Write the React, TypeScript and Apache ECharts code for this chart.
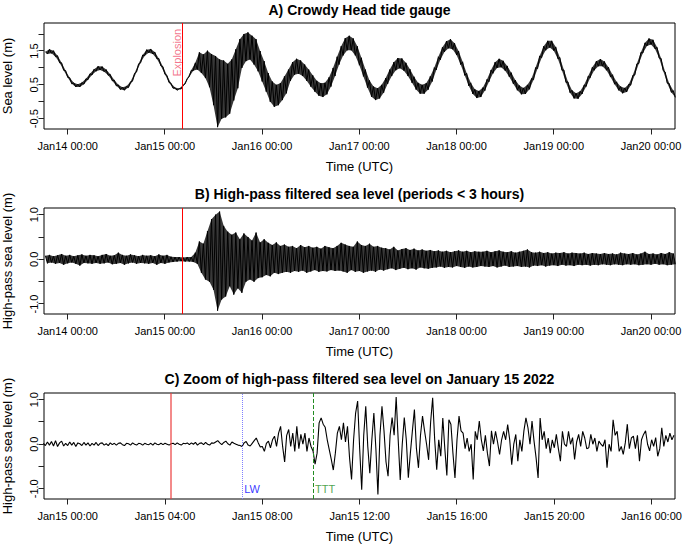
import React, { useEffect, useRef } from "react";
import * as echarts from "echarts";

// ---------- Panel A & B: hourly band readings (hours since Jan14 00:00) ----------
const AB_START_H = -5.5; // first hourly reading
// Panel A: upper edge of the sea-level trace at each hour, lower edge half an hour later (m)
const hiA = [
  1.48, 1.55, 1.51, 1.36, 1.15, 0.92, 0.71, 0.56, 0.52, 0.57, 0.68, 0.83,
  0.96, 1.05, 1.04, 0.95, 0.81, 0.64, 0.50, 0.43, 0.46, 0.59, 0.84, 1.12,
  1.38, 1.54, 1.56, 1.47, 1.28, 1.04, 0.78, 0.55, 0.42, 0.39, 0.49, 0.69,
  0.93, 1.15, 1.46, 1.40, 1.51, 1.41, 1.35, 1.25, 1.22, 1.12, 1.25, 1.55,
  1.85, 2.00, 2.05, 1.95, 1.85, 1.50, 1.20, 0.85, 0.60, 0.50, 0.55, 0.75,
  0.95, 1.17, 1.27, 1.22, 1.10, 0.95, 0.78, 0.62, 0.55, 0.56, 0.72, 1.00,
  1.33, 1.64, 1.88, 1.95, 1.87, 1.64, 1.30, 0.95, 0.63, 0.45, 0.40, 0.50,
  0.70, 0.95, 1.17, 1.29, 1.28, 1.15, 0.96, 0.74, 0.56, 0.50, 0.55, 0.75,
  1.01, 1.33, 1.61, 1.79, 1.85, 1.73, 1.50, 1.18, 0.84, 0.56, 0.37, 0.32,
  0.42, 0.66, 0.94, 1.17, 1.27, 1.21, 1.06, 0.86, 0.64, 0.48, 0.41, 0.50,
  0.69, 1.01, 1.35, 1.64, 1.80, 1.80, 1.62, 1.31, 0.94, 0.59, 0.34, 0.25,
  0.31, 0.50, 0.76, 1.02, 1.20, 1.26, 1.19, 1.02, 0.80, 0.59, 0.45, 0.41,
  0.52, 0.78, 1.12, 1.46, 1.74, 1.87, 1.83, 1.61, 1.28, 0.88, 0.54, 0.33,
];
const loA = [
  1.41, 1.43, 1.33, 1.15, 0.93, 0.72, 0.53, 0.44, 0.44, 0.52, 0.65, 0.79,
  0.90, 0.94, 0.89, 0.78, 0.62, 0.47, 0.36, 0.34, 0.42, 0.61, 0.88, 1.15,
  1.36, 1.45, 1.41, 1.27, 1.06, 0.81, 0.57, 0.40, 0.34, 0.38, 0.53, 0.74,
  0.92, 0.95, 0.85, 0.70, 0.43, -0.10, -0.75, -0.50, -0.46, -0.35, 0.04, 0.40,
  1.00, 1.20, 1.25, 1.10, 0.90, 0.60, 0.30, 0.00, -0.15, -0.10, 0.05, 0.25,
  0.62, 0.80, 0.83, 0.76, 0.62, 0.45, 0.30, 0.18, 0.14, 0.22, 0.45, 0.76,
  1.10, 1.37, 1.52, 1.52, 1.37, 1.08, 0.75, 0.42, 0.15, 0.05, 0.10, 0.27,
  0.53, 0.76, 0.93, 0.99, 0.92, 0.76, 0.56, 0.36, 0.24, 0.24, 0.36, 0.60,
  0.94, 1.24, 1.47, 1.58, 1.55, 1.38, 1.10, 0.78, 0.47, 0.23, 0.11, 0.14,
  0.33, 0.59, 0.84, 1.00, 1.02, 0.92, 0.74, 0.53, 0.34, 0.22, 0.23, 0.37,
  0.65, 0.98, 1.30, 1.52, 1.60, 1.51, 1.27, 0.93, 0.57, 0.27, 0.10, 0.09,
  0.23, 0.45, 0.71, 0.93, 1.05, 1.05, 0.93, 0.73, 0.52, 0.34, 0.25, 0.29,
  0.49, 0.79, 1.13, 1.44, 1.65, 1.69, 1.56, 1.29, 0.92, 0.55, 0.28, 0.13,
];
// Panel B: high-pass filtered sea level, upper and lower edges (m)
const hiB = [
  0.08, 0.10, 0.07, 0.09, 0.12, 0.08, 0.10, 0.07, 0.09, 0.11, 0.08, 0.10,
  0.09, 0.07, 0.10, 0.12, 0.08, 0.09, 0.15, 0.10, 0.08, 0.11, 0.09, 0.07,
  0.10, 0.08, 0.09, 0.07, 0.11, 0.08, 0.10, 0.06, 0.05, 0.05, 0.04, 0.05,
  0.05, 0.15, 0.40, 0.35, 0.63, 0.90, 1.00, 1.07, 0.75, 0.62, 0.55, 0.60,
  0.45, 0.58, 0.50, 0.42, 0.60, 0.38, 0.45, 0.37, 0.32, 0.38, 0.30, 0.33,
  0.28, 0.30, 0.25, 0.32, 0.27, 0.30, 0.26, 0.28, 0.24, 0.30, 0.27, 0.25,
  0.30, 0.37, 0.33, 0.30, 0.28, 0.40, 0.32, 0.30, 0.35, 0.28, 0.30, 0.26,
  0.25, 0.22, 0.28, 0.20, 0.23, 0.25, 0.21, 0.24, 0.20, 0.22, 0.19, 0.21,
  0.18, 0.20, 0.17, 0.19, 0.16, 0.18, 0.20, 0.17, 0.19, 0.16, 0.18, 0.17,
  0.17, 0.19, 0.16, 0.18, 0.20, 0.17, 0.16, 0.18, 0.15, 0.17, 0.19, 0.22,
  0.16, 0.15, 0.17, 0.14, 0.16, 0.13, 0.15, 0.14, 0.16, 0.13, 0.15, 0.14,
  0.13, 0.15, 0.12, 0.14, 0.13, 0.12, 0.14, 0.12, 0.13, 0.11, 0.15, 0.13,
  0.12, 0.14, 0.11, 0.13, 0.17, 0.12, 0.13, 0.11, 0.14, 0.12, 0.16, 0.13,
];
const loB = [
  -0.09, -0.07, -0.10, -0.08, -0.12, -0.09, -0.07, -0.10, -0.14, -0.08, -0.09, -0.10,
  -0.08, -0.10, -0.09, -0.07, -0.11, -0.10, -0.08, -0.12, -0.09, -0.07, -0.10, -0.08,
  -0.09, -0.10, -0.08, -0.12, -0.08, -0.10, -0.07, -0.06, -0.05, -0.04, -0.05, -0.05,
  -0.06, -0.10, -0.30, -0.45, -0.50, -0.68, -1.15, -0.90, -0.83, -0.60, -0.79, -0.65,
  -0.75, -0.50, -0.45, -0.50, -0.42, -0.40, -0.35, -0.38, -0.30, -0.33, -0.30, -0.28,
  -0.30, -0.26, -0.28, -0.25, -0.30, -0.27, -0.24, -0.28, -0.26, -0.27, -0.24, -0.26,
  -0.25, -0.27, -0.30, -0.24, -0.28, -0.26, -0.30, -0.27, -0.25, -0.28, -0.23, -0.25,
  -0.22, -0.20, -0.24, -0.21, -0.19, -0.22, -0.20, -0.23, -0.18, -0.20, -0.21, -0.19,
  -0.18, -0.16, -0.19, -0.17, -0.18, -0.15, -0.17, -0.19, -0.16, -0.18, -0.17, -0.15,
  -0.16, -0.17, -0.15, -0.18, -0.16, -0.14, -0.17, -0.16, -0.15, -0.17, -0.16, -0.18,
  -0.14, -0.15, -0.13, -0.16, -0.14, -0.13, -0.15, -0.12, -0.14, -0.13, -0.15, -0.12,
  -0.13, -0.12, -0.14, -0.12, -0.13, -0.11, -0.12, -0.13, -0.11, -0.12, -0.13, -0.11,
  -0.12, -0.11, -0.13, -0.12, -0.11, -0.12, -0.10, -0.12, -0.11, -0.13, -0.12, -0.11,
];

// ---------- Panel C: 5-minute readings (hours since Jan15 00:00) ----------
const C_START_H = -1;
const C_STEP_MIN = 5;
const hpC = [
  0.02, -0.03, 0.05, -0.02, 0.06, -0.04, 0.08, -0.05, 0.03, 0.07, -0.04, 0.02,
  -0.03, 0.05, -0.02, 0.04, -0.05, 0.03, 0.01, -0.03, 0.04, -0.02, 0.03, -0.04,
  0.02, -0.02, 0.04, -0.03, 0.02, 0.03, -0.02, 0.01, -0.03, 0.03, -0.01, 0.02,
  -0.02, 0.02, 0.03, -0.01, -0.03, 0.02, 0.01, -0.02, 0.03, 0.00, -0.02, 0.02,
  0.01, -0.02, 0.02, 0.00, -0.01, 0.02, -0.02, 0.03, 0.00, -0.01, 0.02, -0.01,
  0.02, 0.00, -0.02, 0.01, 0.02, -0.01, 0.03, 0.00, -0.02, 0.02, 0.01, 0.03,
  -0.01, 0.03, 0.00, 0.04, -0.02, 0.02, 0.03, -0.01, 0.04, 0.00, -0.02, 0.03,
  0.02, 0.05, 0.08, 0.03, -0.01, 0.04, 0.07, 0.01, -0.02, 0.05, 0.02, 0.00,
  -0.02, -0.03, -0.05, 0.03, 0.06, -0.02, -0.04, 0.02, 0.08, 0.14, 0.03, -0.06,
  -0.05, -0.16, 0.02, 0.07, -0.08, 0.10, 0.18, -0.05, 0.25, 0.40, -0.05, -0.40,
  0.20, 0.33, -0.05, 0.25, -0.16, 0.40, -0.10, 0.22, 0.00, 0.25, -0.16, 0.14,
  -0.05, -0.15, -0.45, -0.20, 0.48, 0.59, 0.45, 0.38, 0.10, -0.12, -0.34, -0.58,
  -0.20, 0.25, 0.40, 0.10, 0.48, 0.05, 0.40, -0.30, -0.79, 0.10, 0.70, 0.97,
  -0.10, -1.02, 0.20, 0.85, -0.05, -0.65, 0.10, 0.70, -0.10, -1.13, 0.20, 0.85,
  0.30, -0.40, -0.72, 0.20, 0.60, 0.20, 1.06, 0.10, -0.80, 0.00, 0.60, 0.10,
  -0.75, -0.20, 0.30, 0.78, -0.10, -0.53, 0.20, 0.63, 0.30, 0.00, -0.35, 0.50,
  1.04, 0.10, -0.57, 0.10, -0.27, 0.59, -0.10, -0.70, 0.55, 0.45, -0.20, -0.76,
  0.10, 0.63, 0.30, 0.25, -0.10, 0.14, -0.16, 0.00, -0.79, 0.29, 0.10, 0.52,
  0.10, -0.15, 0.20, -0.20, -0.49, 0.30, 0.00, 0.29, 0.05, -0.23, 0.10, 0.29,
  0.10, 0.44, 0.10, -0.46, 0.00, 0.22, -0.38, 0.10, -0.16, 0.30, 0.59, 0.37,
  0.00, 0.52, 0.07, -0.30, -0.76, 0.59, 0.10, 0.29, -0.10, 0.14, -0.20, 0.10,
  -0.08, 0.22, -0.10, -0.38, 0.29, 0.00, -0.05, 0.29, 0.00, 0.15, -0.34, 0.05,
  0.22, -0.05, 0.29, 0.14, -0.10, -0.08, 0.22, 0.00, 0.14, -0.16, 0.07, 0.00,
  -0.05, 0.10, -0.53, 0.00, -0.16, 0.55, 0.20, 0.29, -0.16, -0.05, -0.23, 0.03,
  0.45, -0.10, 0.14, 0.18, -0.10, 0.20, -0.38, 0.10, 0.22, 0.30, 0.00, -0.15,
  0.10, -0.05, 0.15, -0.27, -0.10, 0.37, -0.05, 0.20, 0.05, 0.25, 0.10, 0.20,
];

// ---------- Axes / ticks / events ----------
const xTicksAB = [0, 24, 48, 72, 96, 120, 144];
const xLabelsAB = ["Jan14 00:00", "Jan15 00:00", "Jan16 00:00", "Jan17 00:00", "Jan18 00:00", "Jan19 00:00", "Jan20 00:00"];
const xTicksC = [0, 4, 8, 12, 16, 20, 24];
const xLabelsC = ["Jan15 00:00", "Jan15 04:00", "Jan15 08:00", "Jan15 12:00", "Jan15 16:00", "Jan15 20:00", "Jan16 00:00"];
const yTicksA = [-0.5, 0, 0.5, 1, 1.5, 2];
const yLabelsA = [-0.5, 0.5, 1.5];
const yTicksB = [-1, -0.5, 0, 0.5, 1];
const yLabelsB = [-1, 0, 1];

const X_RANGE_AB = [-5.85, 149.92];
const X_RANGE_C = [-0.974, 24.96];
const Y_RANGE_A = [-0.804, 2.327];
const Y_RANGE_B = [-1.224, 1.15];
const Y_RANGE_C = [-1.23, 1.15];

const EXPLOSION_AB = 28.25; // Jan15 04:15
const EXPLOSION_C = 4.25;
const LW_C = 7.19;
const TTT_C = 10.1;

const titles = [
  "A) Crowdy Head tide gauge",
  "B) High-pass filtered sea level (periods < 3 hours)",
  "C) Zoom of high-pass filtered sea level on January 15 2022",
];

const FONT = "'Liberation Sans', Arial, Helvetica, sans-serif";
const TICK_LEN = 5;
const GRID_LEFT = 44;
const GRID_WIDTH = 631;
const GRID_HEIGHT = 106;
const GRID_TOPS = [23, 208, 393];

function band(hi: number[], lo: number[], start: number) {
  const out: number[][] = [];
  for (let i = 0; i < hi.length; i++) {
    out.push([start + i, hi[i]]);
    out.push([start + i + 0.5, lo[i]]);
  }
  return out;
}

// filled envelope between the upper and lower readings, placed through the axes
function envelopeSeries(gi: number, hi: number[], lo: number[], start: number) {
  return {
    type: "custom",
    xAxisIndex: gi,
    yAxisIndex: gi,
    silent: true,
    clip: true,
    data: [[start, hi[0]]],
    renderItem: (_params: any, api: any) => {
      const pts: number[][] = [];
      for (let i = 0; i < hi.length; i++) pts.push(api.coord([start + i, hi[i]]));
      for (let i = lo.length - 1; i >= 0; i--) pts.push(api.coord([start + i + 0.5, lo[i]]));
      return { type: "polygon", shape: { points: pts }, style: { fill: "rgba(0,0,0,0.78)", stroke: "none" } };
    },
  };
}

function lookup(ticks: number[], labels: string[]) {
  return (v: number) => {
    const i = ticks.findIndex((t) => Math.abs(t - v) < 1e-6);
    return i >= 0 ? labels[i] : "";
  };
}

function xAx(gi: number, range: number[], ticks: number[], labels: string[]) {
  return {
    type: "value",
    gridIndex: gi,
    min: range[0],
    max: range[1],
    position: "bottom",
    axisLine: { show: false, onZero: false },
    splitLine: { show: false },
    axisTick: { show: false },
    axisLabel: { show: true, customValues: ticks, margin: 11, fontSize: 11, fontFamily: FONT, color: "#000", formatter: lookup(ticks, labels) },
    name: "Time (UTC)",
    nameLocation: "middle",
    nameGap: 31,
    nameTextStyle: { fontSize: 13, fontFamily: FONT, color: "#000" },
  };
}

function yAx(gi: number, range: number[], labs: number[], name: string) {
  return {
    type: "value",
    gridIndex: gi,
    min: range[0],
    max: range[1],
    position: "left",
    axisLine: { show: false, onZero: false },
    splitLine: { show: false },
    axisTick: { show: false },
    axisLabel: { show: true, customValues: labs, rotate: 90, margin: 5, fontSize: 11, fontFamily: FONT, color: "#000", formatter: (v: number) => v.toFixed(1) },
    name,
    nameLocation: "middle",
    nameGap: 30,
    nameRotate: 90,
    nameTextStyle: { fontSize: 13, fontFamily: FONT, color: "#000" },
  };
}

// tick marks as small crisp filled rects; position from the axis range of each panel
function tickRects(gi: number, xt: number[], yt: number[], xr: number[], yr: number[]) {
  const top = GRID_TOPS[gi];
  const bottom = top + GRID_HEIGHT;
  const out: any[] = [];
  xt.forEach((v) => {
    const x = Math.floor(GRID_LEFT + ((v - xr[0]) / (xr[1] - xr[0])) * GRID_WIDTH);
    out.push({ type: "rect", z: 100, silent: true, shape: { x, y: bottom, width: 1, height: TICK_LEN + 0.5 }, style: { fill: "#222" } });
  });
  yt.forEach((v) => {
    const y = Math.floor(bottom - ((v - yr[0]) / (yr[1] - yr[0])) * GRID_HEIGHT);
    out.push({ type: "rect", z: 100, silent: true, shape: { x: GRID_LEFT - TICK_LEN - 0.5, y, width: TICK_LEN + 0.5, height: 1 }, style: { fill: "#222" } });
  });
  return out;
}

export default function App() {
  const ref = useRef<HTMLDivElement>(null);
  useEffect(() => {
    if (!ref.current) return;
    const chart = echarts.init(ref.current, undefined, { renderer: "svg", width: 685, height: 545 });
    const dataC = hpC.map((v, k) => [C_START_H + (k * C_STEP_MIN) / 60, v]);
    const titleGraphics = titles.map((t, i) => ({
      type: "text",
      x: 359.5,
      y: [9.5, 194, 379][i],
      z: 10,
      style: { text: t, align: "center", verticalAlign: "middle", fontSize: 14, fontWeight: "bold", fontFamily: FONT, fill: "#000" },
    }));
    const ticks = [
      ...tickRects(0, xTicksAB, yTicksA, X_RANGE_AB, Y_RANGE_A),
      ...tickRects(1, xTicksAB, yTicksB, X_RANGE_AB, Y_RANGE_B),
      ...tickRects(2, xTicksC, yTicksB, X_RANGE_C, Y_RANGE_C),
    ];
    const option: any = {
      animation: false,
      backgroundColor: "#fff",
      grid: GRID_TOPS.map((t) => ({
        left: GRID_LEFT, top: t, width: GRID_WIDTH, height: GRID_HEIGHT, show: true, borderColor: "#000", borderWidth: 1,
        backgroundColor: "transparent", containLabel: false, outerBoundsMode: "none",
      })),
      xAxis: [
        xAx(0, X_RANGE_AB, xTicksAB, xLabelsAB),
        xAx(1, X_RANGE_AB, xTicksAB, xLabelsAB),
        xAx(2, X_RANGE_C, xTicksC, xLabelsC),
      ],
      yAxis: [
        yAx(0, Y_RANGE_A, yLabelsA, "Sea level (m)"),
        yAx(1, Y_RANGE_B, yLabelsB, "High-pass sea level (m)"),
        yAx(2, Y_RANGE_C, yLabelsB, "High-pass sea level (m)"),
      ],
      graphic: { elements: [...titleGraphics, ...ticks] },
      series: [
        envelopeSeries(0, hiA, loA, AB_START_H),
        envelopeSeries(1, hiB, loB, AB_START_H),
        {
          type: "line", xAxisIndex: 0, yAxisIndex: 0, data: band(hiA, loA, AB_START_H), symbol: "none", showSymbol: false,
          lineStyle: { color: "#000", width: 1 }, clip: true, silent: true,
          markLine: {
            silent: true, symbol: ["none", "none"], label: { show: false },
            data: [{ xAxis: EXPLOSION_AB, lineStyle: { color: "#ff0000", width: 1, type: "solid" } }],
          },
        },
        {
          type: "line", xAxisIndex: 1, yAxisIndex: 1, data: band(hiB, loB, AB_START_H), symbol: "none", showSymbol: false,
          lineStyle: { color: "#000", width: 1 }, clip: true, silent: true,
          markLine: {
            silent: true, symbol: ["none", "none"], label: { show: false },
            data: [{ xAxis: EXPLOSION_AB, lineStyle: { color: "#ff0000", width: 1, type: "solid" } }],
          },
        },
        {
          type: "line", xAxisIndex: 2, yAxisIndex: 2, data: dataC, symbol: "none", showSymbol: false,
          lineStyle: { color: "#000", width: 1.1 }, clip: true, silent: true,
          markLine: {
            silent: true, symbol: ["none", "none"], label: { show: false },
            data: [
              { xAxis: EXPLOSION_C, lineStyle: { color: "rgba(235,60,60,0.6)", width: 2, type: "solid" } },
              { xAxis: LW_C, lineStyle: { color: "#7f7fff", width: 1, type: "dotted" } },
              { xAxis: TTT_C, lineStyle: { color: "#228b22", width: 1, type: "dashed" } },
            ],
          },
        },
        {
          type: "scatter", xAxisIndex: 0, yAxisIndex: 0, silent: true, symbolSize: 1, itemStyle: { color: "rgba(0,0,0,0)" },
          data: [{ value: [EXPLOSION_AB, 1.45] }],
          label: { show: true, formatter: "Explosion", rotate: 90, position: "inside", offset: [0, -5], fontSize: 11, fontFamily: FONT, color: "#f0506e" },
        },
        {
          type: "scatter", xAxisIndex: 2, yAxisIndex: 2, silent: true, symbolSize: 1, itemStyle: { color: "rgba(0,0,0,0)" },
          data: [
            { value: [LW_C, -1.0], label: { formatter: "LW", color: "#0000ff" } },
            { value: [TTT_C, -1.0], label: { formatter: "TTT", color: "#228b22" } },
          ],
          label: { show: true, position: "right", distance: 1, fontSize: 11, fontFamily: FONT },
        },
      ],
    };
    chart.setOption(option);
    return () => chart.dispose();
  }, []);
  return <div ref={ref} style={{ position: "absolute", left: 0, top: 0, width: 685, height: 545 }} />;
}
